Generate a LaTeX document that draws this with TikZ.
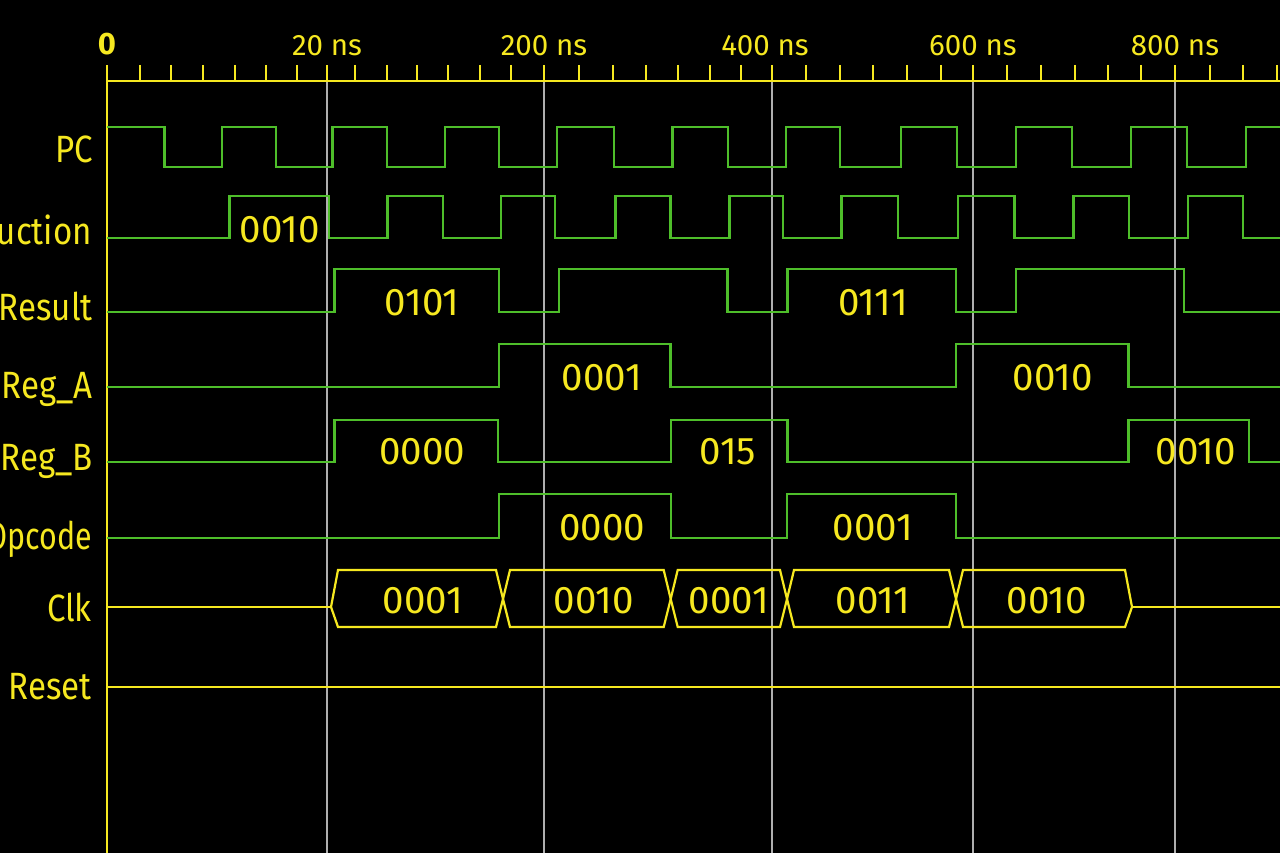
\documentclass[tikz,border=0pt]{standalone}
\usepackage{fontspec}
\setmainfont{Fira Sans}[FakeStretch=0.87]
\newfontfamily\valuefont{Fira Sans}
\definecolor{waveGreen}{RGB}{78,190,42}
\definecolor{traceYellow}{RGB}{246,232,32}
\definecolor{gridGray}{RGB}{175,175,175}

\begin{document}
\begin{tikzpicture}[
  x=1pt, y=-1pt,
  wave/.style={draw=waveGreen, line width=2.8pt},
  bus/.style={draw=traceYellow, line width=2.2pt},
  axisline/.style={draw=traceYellow, line width=1.8pt},
  gridline/.style={draw=gridGray, line width=1.2pt},
  siglabel/.style={text=traceYellow, font=\fontsize{38}{40}\selectfont, anchor=base east, inner sep=0pt},
  value/.style={text=traceYellow, font=\valuefont\fontsize{38.5}{40}\selectfont, anchor=base, inner sep=0pt},
  timelabel/.style={text=traceYellow, font=\valuefont\fontsize{29.5}{34}\selectfont, anchor=base, inner sep=0pt}
]
  % Fondo negro
  \useasboundingbox (0,0) rectangle (1280,853);
  \fill[black] (0,0) rectangle (1280,853);
  \clip (0,0) rectangle (1280,853);

  % Eje de tiempo
  \draw[axisline] (107,65) -- (107,853);
  \draw[axisline] (107,81) -- (1282,81);
  \foreach \t in {140,171,203,235,266,297,327,355,387,417,448,480,511,544,579,613,
                  646,678,710,741,772,806,840,873,907,941,973,1007,1041,1075,1108,
                  1141,1175,1210,1243,1277}
    \draw[axisline] (\t,65) -- (\t,81);

  \node[timelabel, font=\valuefont\fontsize{31}{34}\selectfont\bfseries] (t0) at (107,55) {0};
  \node[timelabel] (t20) at (327,56) {20 ns};
  \node[timelabel] (t200) at (544,56) {200 ns};
  \node[timelabel] (t400) at (765,56) {400 ns};
  \node[timelabel] (t600) at (973,56) {600 ns};
  \node[timelabel] (t800) at (1175,56) {800 ns};

  % Lineas de referencia
  \foreach \g in {327,544,772,973,1175}
    \draw[gridline] (\g,82) -- (\g,853);

  % Nombres de las senales
  \node[siglabel] (pc) at (93,163) {PC};
  \node[siglabel] (instr) at (92,245) {Instruction};
  \node[siglabel] (result) at (93,320) {Result};
  \node[siglabel] (rega) at (93,398) {Reg\_A};
  \node[siglabel] (regb) at (93,470) {Reg\_B};
  \node[siglabel, font=\fontsize{38}{40}\selectfont\addfontfeature{FakeStretch=0.8}] (opcode) at (92,549) {Opcode};
  \node[siglabel] (clk) at (92,621) {Clk};
  \node[siglabel] (reset) at (92,699) {Reset};

  % PC
  \draw[wave] (107,127) -| (164.5,167) -| (222,127) -| (276,167) -| (332.6,127)
    -| (387,167) -| (445,127) -| (499,167) -| (557,127) -| (614,167) -| (672.7,127)
    -| (728,167) -| (786,127) -| (840,167) -| (901,127) -| (957,167) -| (1016,127)
    -| (1072,167) -| (1131,127) -| (1187,167) -| (1246,127) -- (1284,127);

  % Instruction
  \draw[wave] (107,238) -| (229.4,196) -| (329,238) -| (387.8,196) -| (443,238)
    -| (501,196) -| (555,238) -| (615.5,196) -| (670.6,238) -| (729.8,196) -| (783,238)
    -| (841.6,196) -| (898,238) -| (958,196) -| (1014.7,238) -| (1073.5,196)
    -| (1129,238) -| (1188,196) -| (1243,238) -- (1284,238);
  \node[value] (instrv1) at (280,243) {0010};

  % Result
  \draw[wave] (107,312) -| (334.7,269) -| (499,312) -| (559,269) -| (727.8,312)
    -| (787.8,269) -| (956,312) -| (1016,269) -| (1184,312) -- (1284,312);
  \node[value] (resultv1) at (422,315) {0101};
  \node[value] (resultv2) at (873,315) {0111};

  % Reg_A
  \draw[wave] (107,387) -| (499,344) -| (670.6,387) -| (956,344) -| (1128.6,387) -- (1284,387);
  \node[value] (regav1) at (602,390) {0001};
  \node[value] (regav2) at (1053,390) {0010};

  % Reg_B
  \draw[wave] (107,462) -| (334.7,420) -| (498,462) -| (671,420) -| (787.8,462)
    -| (1128.6,420) -| (1249,462) -- (1284,462);
  \node[value] (regbv1) at (422,464) {0000};
  \node[value] (regbv2) at (728,464) {015};
  \node[value] (regbv3) at (1196,464) {0010};

  % Opcode
  \draw[wave] (107,538) -| (499,494) -| (671,538) -| (787,494) -| (956,538) -- (1284,538);
  \node[value] (opcodev1) at (602,540) {0000};
  \node[value] (opcodev2) at (873,540) {0001};

  % Clk (bus)
  \draw[bus] (107,607) -- (331,607);
  \foreach \a/\b/\ya/\yb/\val/\xv [count=\i] in {331/503/607/599/0001/423,
      503/670.7/599/599/0010/594, 670.7/787/599/599/0001/729,
      787/956/599/599/0011/873, 956/1132/599/607/0010/1047} {
    \draw[bus, line join=miter] (\a,\ya) -- (\a+7,570) -- (\b-7,570) -- (\b,\yb)
      -- (\b-7,627) -- (\a+7,627) -- cycle;
    \node[value] (clk\i) at (\xv,613) {\val};
  }
  \draw[bus] (1132,607) -- (1284,607);

  % Reset
  \draw[bus] (107,687) -- (1284,687);

\end{tikzpicture}
\end{document}
